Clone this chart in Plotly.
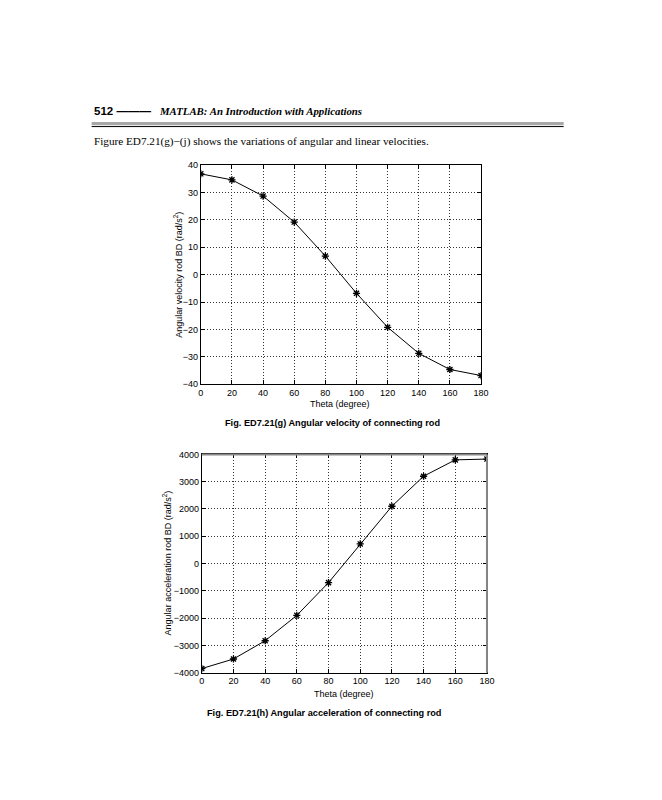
import plotly.graph_objects as go

W, H = 662, 800
OFF = 8  # default body margin of the page

theta = [0, 20, 40, 60, 80, 100, 120, 140, 160, 180]
ang_vel = [36.8, 34.6, 28.7, 19.2, 6.8, -6.8, -19.2, -28.7, -34.6, -36.8]
ang_acc = [-3850, -3500, -2830, -1900, -700, 720, 2100, 3200, 3800, 3830]

x_ticks = [0, 20, 40, 60, 80, 100, 120, 140, 160, 180]
vel_ticks = [-40, -30, -20, -10, 0, 10, 20, 30, 40]
acc_ticks = [-4000, -3000, -2000, -1000, 0, 1000, 2000, 3000, 4000]


def px(x):
    return (x - OFF) / W


def py(y):
    return 1 - (y - OFF) / H


SANS = "Liberation Sans, Arial, sans-serif"
SERIF = "Liberation Serif, Times New Roman, serif"

fig = go.Figure()
fig.add_trace(go.Scatter(
    x=theta, y=ang_vel, mode="lines+markers", xaxis="x", yaxis="y",
    line=dict(color="black", width=1),
    marker=dict(symbol="asterisk-open", size=6, color="black",
                line=dict(color="black", width=1.3)),
    showlegend=False,
))
fig.add_trace(go.Scatter(
    x=theta, y=ang_acc, mode="lines+markers", xaxis="x2", yaxis="y2",
    line=dict(color="black", width=1),
    marker=dict(symbol="asterisk-open", size=6, color="black",
                line=dict(color="black", width=1.3)),
    showlegend=False,
))

axis_common = dict(
    showline=True, linecolor="black", linewidth=1, mirror="ticks",
    ticks="inside", ticklen=4, tickcolor="black",
    showgrid=True, gridcolor="#333333", gridwidth=0.8, griddash="1px,2px",
    zeroline=False, tickfont=dict(family=SANS, size=9, color="black"),
)

fig.update_layout(
    width=W, height=H,
    margin=dict(l=0, r=0, t=0, b=0),
    paper_bgcolor="white", plot_bgcolor="white",
    xaxis=dict(domain=[px(201), px(486)], anchor="y", range=[0, 180],
               tickvals=x_ticks, **axis_common),
    yaxis=dict(domain=[py(384), py(162)], anchor="x", range=[-40, 40],
               tickvals=vel_ticks, **axis_common),
    xaxis2=dict(domain=[px(202), px(492)], anchor="y2", range=[0, 180],
                tickvals=x_ticks, **axis_common),
    yaxis2=dict(domain=[py(676), py(455)], anchor="x2", range=[-4000, 4000],
                tickvals=acc_ticks, **axis_common),
)


def label(x, y, text, font, anchor="left", angle=0):
    return dict(x=px(x), y=py(y), xref="paper", yref="paper", xanchor=anchor, yanchor="middle",
                text=text, showarrow=False, textangle=angle, font=font)


f_axis = dict(family=SANS, size=9, color="black")
f_cap = dict(family=SANS, size=9.2, color="black")

ann = [
    label(90, 107, "<b>512 ———</b>", dict(family=SANS, size=11.5, color="black")),
    label(156, 107, "<b><i>MATLAB: An Introduction with Applications</i></b>",
          dict(family=SERIF, size=10.8, color="black")),
    label(90, 138, "Figure ED7.21(g)\u2212(j) shows the variations of angular and linear velocities.",
          dict(family=SERIF, size=11.2, color="black")),
    label(343, 404, "Theta (degree)", f_axis, "center"),
    label(178, 273, "Angular velocity rod BD (rad/s<sup>2</sup>)", f_axis, "center", -90),
    label(347, 698, "Theta (degree)", f_axis, "center"),
    label(167, 565, "Angular acceleration rod BD (rad/s<sup>2</sup>)", f_axis, "center", -90),
    label(335, 423, "<b>Fig. ED7.21(g) Angular velocity of connecting rod</b>", f_cap, "center"),
    label(326, 717, "<b>Fig. ED7.21(h) Angular acceleration of connecting rod</b>", f_cap, "center"),
]
fig.update_layout(annotations=ann)

fig.update_layout(shapes=[
    dict(type="rect", xref="paper", yref="paper", x0=px(90), x1=px(570), y0=py(121.7), y1=py(118.3),
         fillcolor="#a8a8a8", line=dict(width=0), layer="below"),
    dict(type="line", xref="paper", yref="paper", x0=px(90), x1=px(570), y0=py(123), y1=py(123),
         line=dict(color="black", width=1)),
    # greyish heavy top/right frame of the lower figure (print artefact)
    dict(type="line", xref="paper", yref="paper", x0=px(202), x1=px(492), y0=py(455), y1=py(455),
         line=dict(color="#888888", width=2)),
    dict(type="line", xref="paper", yref="paper", x0=px(492), x1=px(492), y0=py(455), y1=py(676),
         line=dict(color="#888888", width=2)),
])

fig.write_html("out.html")
